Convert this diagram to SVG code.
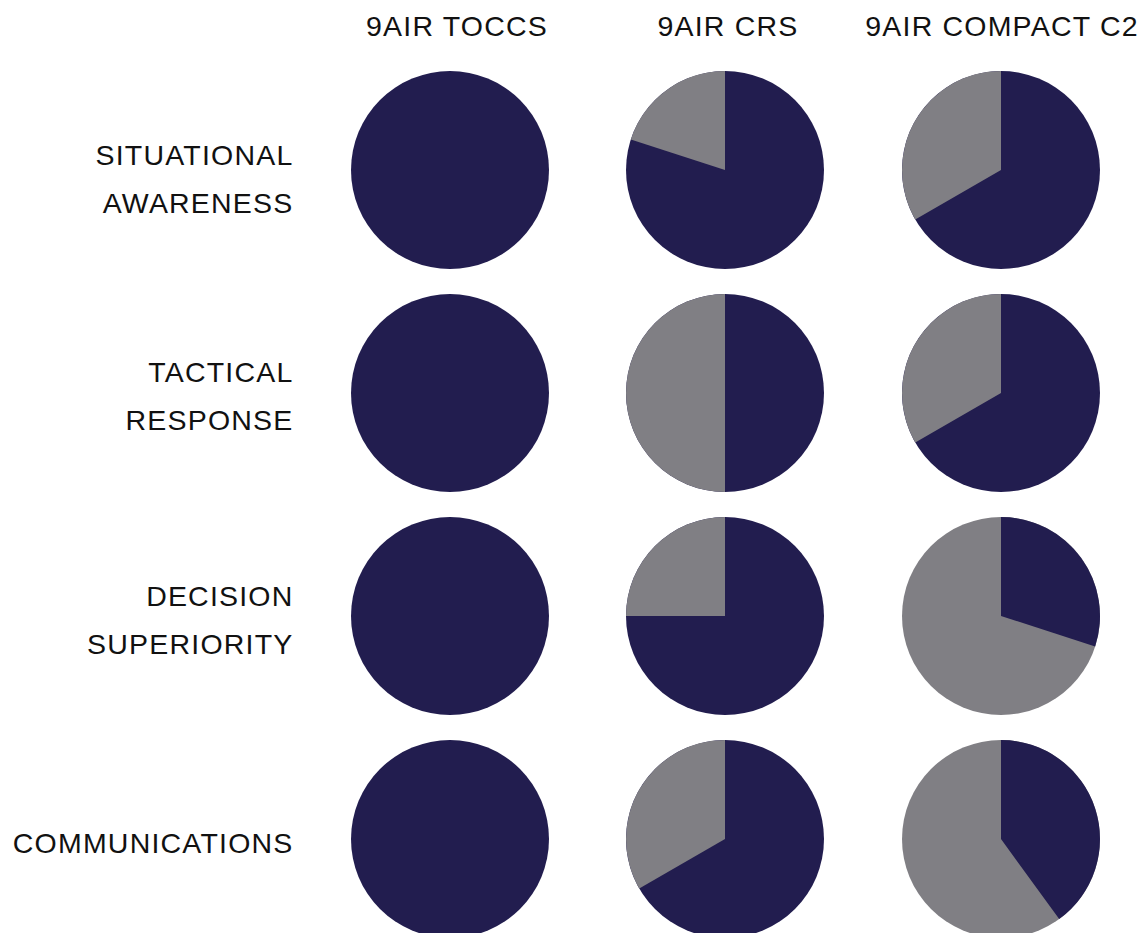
<svg xmlns="http://www.w3.org/2000/svg" width="1145" height="933" viewBox="0 0 1145 933">
<style>
.t{font-family:"Liberation Sans",Arial,sans-serif;font-size:28.5px;fill:#111;letter-spacing:1.2px}
.h{text-anchor:middle}
.r{text-anchor:end}
.n{fill:#221d4f}
.g{fill:#807f84}
</style>
<rect width="1145" height="933" fill="#fff"/>
<g id="headers">
<text class="t h" x="457" y="36">9AIR TOCCS</text>
<text class="t h" x="728" y="36">9AIR CRS</text>
<text class="t h" x="1002" y="36">9AIR COMPACT C2</text>
</g>
<g id="row-labels">
<text class="t r" x="293.5" y="165">SITUATIONAL</text>
<text class="t r" x="293.5" y="213">AWARENESS</text>
<text class="t r" x="293.5" y="382">TACTICAL</text>
<text class="t r" x="293.5" y="430">RESPONSE</text>
<text class="t r" x="293.5" y="606">DECISION</text>
<text class="t r" x="293.5" y="654">SUPERIORITY</text>
<text class="t r" x="293.5" y="853">COMMUNICATIONS</text>
</g>
<g id="pie-sa-toccs"><circle class="n" cx="450" cy="170" r="99"/></g>
<g id="pie-sa-crs"><circle class="n" cx="725" cy="170" r="99"/><path class="g" d="M725,170 L725,71 A99,99 0 0 0 630.85,139.41 Z"/></g>
<g id="pie-sa-c2"><circle class="n" cx="1001" cy="170" r="99"/><path class="g" d="M1001,170 L1001,71 A99,99 0 0 0 915.26,219.5 Z"/></g>
<g id="pie-tr-toccs"><circle class="n" cx="450" cy="393" r="99"/></g>
<g id="pie-tr-crs"><circle class="n" cx="725" cy="393" r="99"/><path class="g" d="M725,393 L725,294 A99,99 0 0 0 725,492 Z"/></g>
<g id="pie-tr-c2"><circle class="n" cx="1001" cy="393" r="99"/><path class="g" d="M1001,393 L1001,294 A99,99 0 0 0 915.26,442.5 Z"/></g>
<g id="pie-ds-toccs"><circle class="n" cx="450" cy="616" r="99"/></g>
<g id="pie-ds-crs"><circle class="n" cx="725" cy="616" r="99"/><path class="g" d="M725,616 L725,517 A99,99 0 0 0 626,616 Z"/></g>
<g id="pie-ds-c2"><circle class="g" cx="1001" cy="616" r="99"/><path class="n" d="M1001,616 L1001,517 A99,99 0 0 1 1095.15,646.59 Z"/></g>
<g id="pie-co-toccs"><circle class="n" cx="450" cy="839" r="99"/></g>
<g id="pie-co-crs"><circle class="n" cx="725" cy="839" r="99"/><path class="g" d="M725,839 L725,740 A99,99 0 0 0 639.26,888.5 Z"/></g>
<g id="pie-co-c2"><circle class="g" cx="1001" cy="839" r="99"/><path class="n" d="M1001,839 L1001,740 A99,99 0 0 1 1059.19,919.09 Z"/></g>
</svg>
